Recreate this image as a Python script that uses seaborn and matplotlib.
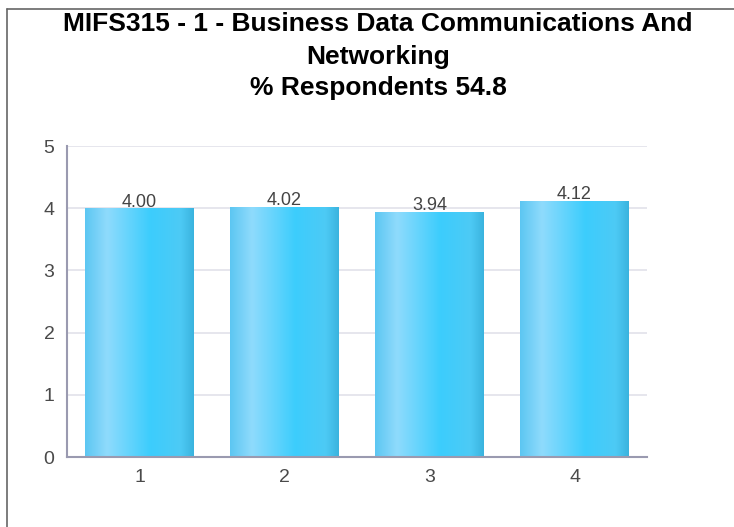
import numpy as np
import pandas as pd
import matplotlib
matplotlib.use("Agg")
import matplotlib.pyplot as plt
from matplotlib.colors import LinearSegmentedColormap
from matplotlib.lines import Line2D
import seaborn as sns

categories = ["1", "2", "3", "4"]
values = [4.00, 4.02, 3.94, 4.12]
value_labels = ["4.00", "4.02", "3.94", "4.12"]
title_lines = ["MIFS315 - 1 - Business Data Communications And",
               "Networking",
               "% Respondents 54.8"]
y_ticks = [0, 1, 2, 3, 4, 5]

sns.set_theme(style="white")
plt.rcParams['font.family'] = ['Liberation Sans', 'DejaVu Sans']

df = pd.DataFrame({"cat": categories, "val": values})

fig = plt.figure(figsize=(7.34, 5.27), dpi=100)
ax = fig.add_axes([67/734, 70/527, 580/734, 311/527])

sns.barplot(data=df, x="cat", y="val", ax=ax, color="#3ccdfc", width=0.745,
            saturation=1, edgecolor="none")

ax.set_ylim(0, 5)
ax.set_xlim(-0.5, 3.5)
ax.set_yticks(y_ticks)
ax.set_xlabel("")
ax.set_ylabel("")
ax.yaxis.grid(True, color="#e2e2ea", linewidth=1.2)
ax.set_axisbelow(True)
for s in ["top", "right"]:
    ax.spines[s].set_visible(False)
for s in ["left", "bottom"]:
    ax.spines[s].set_color("#9a9ab0")
    ax.spines[s].set_linewidth(1.5)
ax.tick_params(axis="y", length=0, pad=9, labelsize=14, labelcolor="#4a4a4a")
ax.tick_params(axis="x", length=0, pad=9, labelsize=14, labelcolor="#4a4a4a")

# gradient fill for bars
cmap = LinearSegmentedColormap.from_list(
    "bar", [(0.0, "#5cc6f2"), (0.2, "#8fdbfc"), (0.6, "#3ccdfd"),
            (0.88, "#4dcaf5"), (1.0, "#3ab3de")])
grad = np.linspace(0, 1, 256).reshape(1, -1)
for p in ax.patches:
    x0, y0 = p.get_x(), p.get_y()
    w, h = p.get_width(), p.get_height()
    im = ax.imshow(grad, cmap=cmap, aspect="auto",
                   extent=[x0, x0 + w, y0, y0 + h], zorder=p.get_zorder() + 0.1,
                   interpolation="bilinear")
    im.set_clip_path(p)
ax.set_xlim(-0.5, 3.5)
ax.set_ylim(0, 5)

for i, (v, lab) in enumerate(zip(values, value_labels)):
    ax.text(i, v - 0.04, lab, ha="center", va="bottom", fontsize=13,
            color="#444444", zorder=5)

ys = [24, 57, 88]
for line, yp in zip(title_lines, ys):
    fig.text(378/734, 1 - yp/527, line, ha="center", va="center",
             fontsize=19, fontweight="bold", color="black")

# figure border (top and left)
fig.add_artist(Line2D([7/734, 1], [1 - 9/527, 1 - 9/527], color="#666666",
                      linewidth=1.2, transform=fig.transFigure))
fig.add_artist(Line2D([7/734, 7/734], [0, 1 - 9/527], color="#666666",
                      linewidth=1.2, transform=fig.transFigure))

fig.savefig("out.png", dpi=100)
